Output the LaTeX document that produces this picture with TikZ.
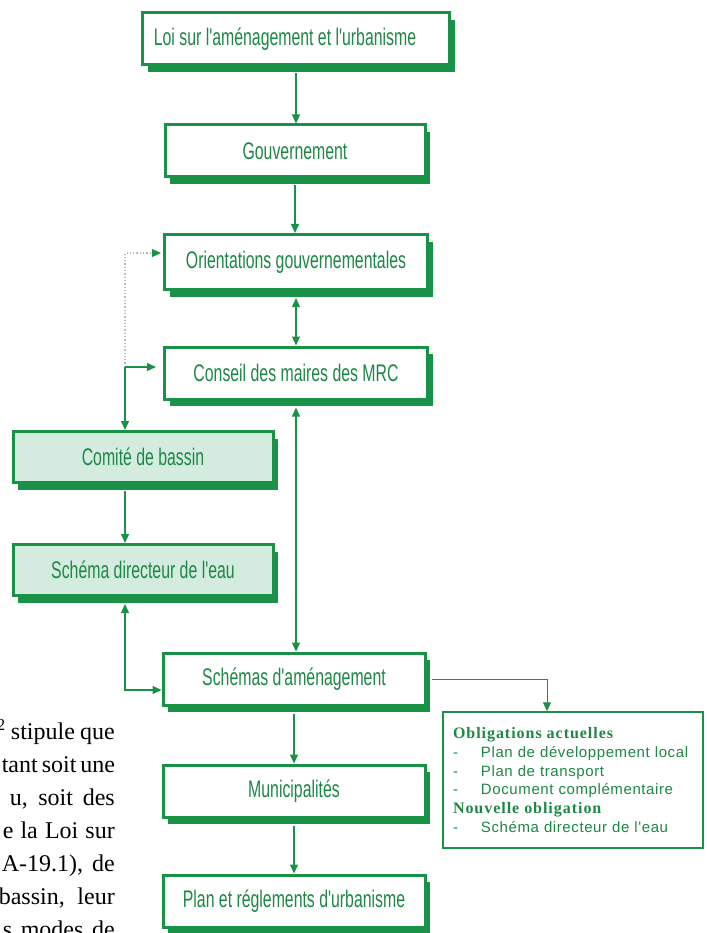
\documentclass[tikz,border=0pt]{standalone}
\usepackage{fontspec}
\usepackage{tikz}
\usetikzlibrary{arrows.meta,positioning,shadows,calc}

\newfontfamily\boxfont[FakeStretch=0.66]{Liberation Sans}
\newfontfamily\listfont[LetterSpace=4]{Liberation Sans}
\newfontfamily\headfont[LetterSpace=6]{Liberation Serif}
\newfontfamily\pagefont{Liberation Serif}

\definecolor{boxgreen}{RGB}{25,145,70}
\definecolor{textgreen}{RGB}{30,135,70}
\definecolor{paleteal}{RGB}{212,236,224}

\newcommand{\oblitem}[1]{\makebox[28pt][l]{-}#1}
\newcommand{\pline}[2]{\makebox[#1][s]{#2}}

\begin{document}
\begin{tikzpicture}[
    x=1pt, y=-1pt,
    stage/.style={draw=boxgreen, line width=3pt, fill=white, text=textgreen,
        font=\boxfont\fontsize{24}{26}\selectfont, minimum height=52pt,
        drop shadow={shadow xshift=5pt, shadow yshift=-7pt, fill=boxgreen, opacity=1}},
    water/.style={stage, fill=paleteal},
    flow/.style={draw=boxgreen, line width=1.4pt, -{Triangle[length=9pt,width=8pt]}},
    twoway/.style={flow, {Triangle[length=9pt,width=8pt]}-{Triangle[length=9pt,width=8pt]}},
    dotline/.style={draw=gray!55, line width=1.3pt, dotted,
        -{Triangle[length=9pt,width=8pt,color=boxgreen]}}
]

% page size of the scan (pixels as pt, y downwards)
\useasboundingbox (0,0) rectangle (706,933);

% Main chain
\node [stage, minimum width=307pt] (loi) at (296,39) {\hspace*{-22pt}Loi sur l'aménagement et l'urbanisme};
\node [stage, minimum width=260pt] (gouv) at (295,151) {Gouvernement};
\node [stage, minimum width=263pt, minimum height=55pt] (orient) at (296,262) {Orientations gouvernementales};
\node [stage, minimum width=263pt] (conseil) at (296,373) {Conseil des maires des MRC};

% Water side
\node [water, minimum width=260pt, minimum height=51pt] (comite) at (143,457) {Comité de bassin};
\node [water, minimum width=260pt, minimum height=51pt] (schemadir) at (143,570) {Schéma directeur de l'eau};

% Lower chain
\node [stage, minimum width=262pt] (schemas) at (294,679) {Schémas d'aménagement};
\node [stage, minimum width=262pt] (muni) at (294,791) {Municipalités};
\node [stage, minimum width=262pt] (plan) at (294,901) {Plan et réglements d'urbanisme};

% Obligations list
\node [draw=boxgreen, line width=1.5pt, fill=white, text=textgreen,
       minimum width=260pt, minimum height=136pt, text width=240pt, align=left,
       font=\listfont\fontsize{15}{18.7}\selectfont] (oblig) at (573,780)
{{\headfont\bfseries\fontsize{16}{18.7}\selectfont Obligations actuelles}\\
\oblitem{Plan de développement local}\\
\oblitem{Plan de transport}\\
\oblitem{Document complémentaire}\\
{\headfont\bfseries\fontsize{16}{18.7}\selectfont Nouvelle obligation}\\
\oblitem{Schéma directeur de l'eau}};

% Text of the page beside the figure (justified, cut at the left edge)
\node [anchor=north east, align=right, inner sep=0pt,
       font=\pagefont\fontsize{24}{33}\selectfont] (page) at (115,719)
{\pline{118pt}{\textsuperscript{2} stipule que}\\
\pline{113pt}{tant soit une}\\
\pline{105pt}{u, soit des}\\
\pline{112pt}{e la Loi sur}\\
\pline{113pt}{A-19.1), de}\\
\pline{116pt}{bassin, leur}\\
\pline{112pt}{s modes de}};

% Connectors
\draw [flow] ([yshift=-7pt]loi.south) -- (loi.south |- gouv.north);
\draw [flow] ([yshift=-7pt]gouv.south) -- (gouv.south |- orient.north);
\draw [twoway] ([yshift=-7pt]orient.south) -- (orient.south |- conseil.north);
\draw [twoway] ([yshift=-7pt]conseil.south) -- (conseil.south |- schemas.north);

\coordinate (split) at (125,367);
\draw [dotline, shorten >=2pt] (split) |- ([yshift=9pt]orient.west);
\draw [flow, shorten >=7pt] (split) -- (split -| conseil.west);
\draw [flow] (split) -- (split |- comite.north);
\draw [flow] ([yshift=-7pt]comite.south -| split) -- (split |- schemadir.north);
\draw [twoway] ([yshift=-7pt]schemadir.south -| split) |- ([yshift=-11pt]schemas.west);

\draw [flow, line width=1pt] ([xshift=5pt]schemas.east) -| ([xshift=-26pt]oblig.north);
\draw [flow] ([yshift=-7pt]schemas.south) -- (schemas.south |- muni.north);
\draw [flow] ([yshift=-7pt]muni.south) -- (muni.south |- plan.north);

\end{tikzpicture}
\end{document}
